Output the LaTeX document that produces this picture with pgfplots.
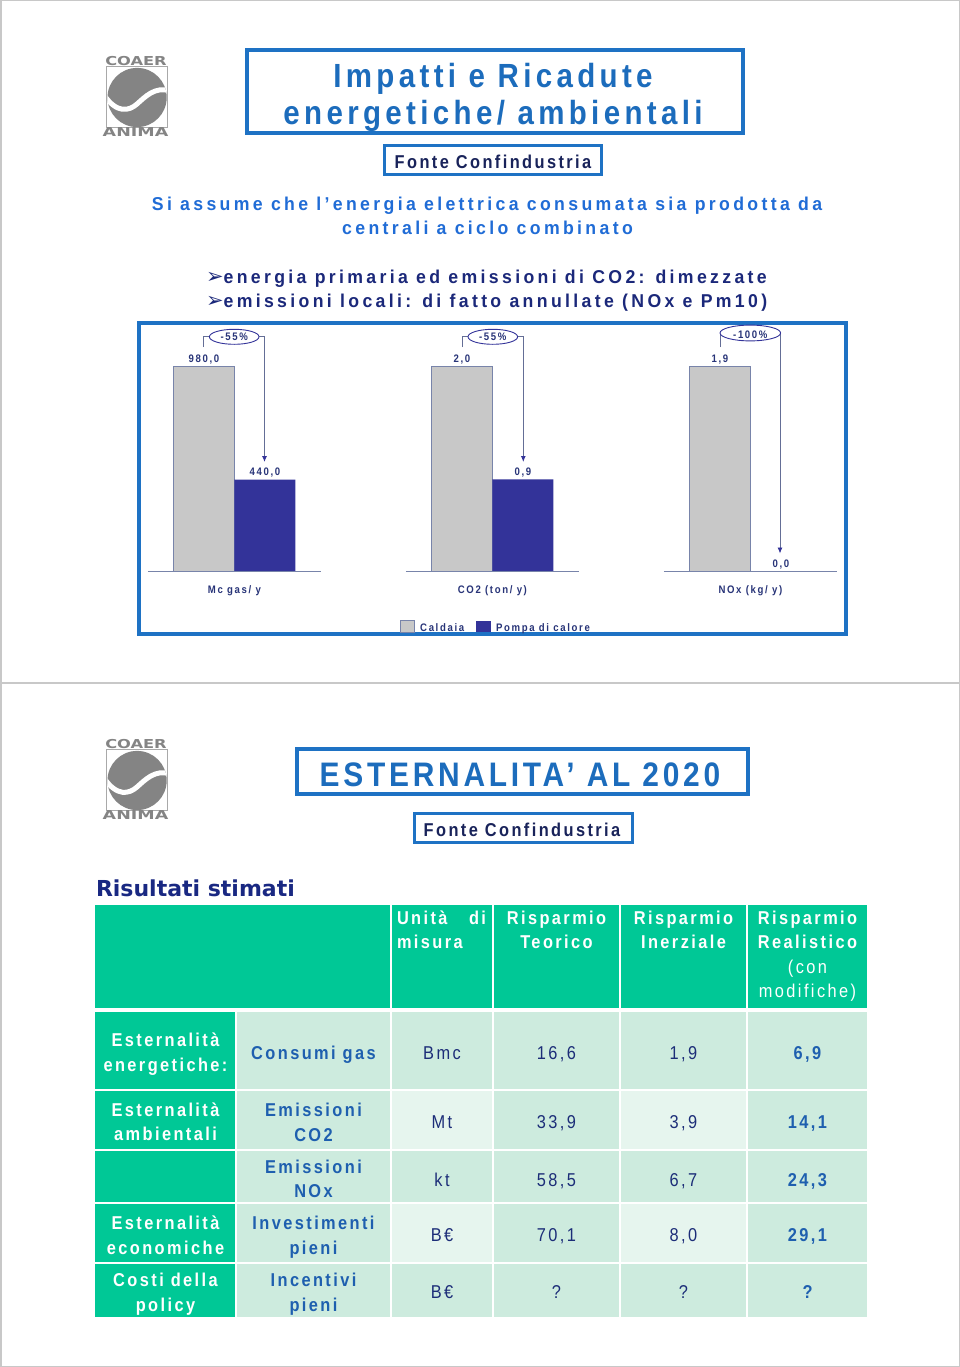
\documentclass[border=0pt]{standalone}
\usepackage{pgfplots}
\pgfplotsset{compat=1.18}
\usepackage{fontspec}
\usepackage{graphicx}
\usetikzlibrary{arrows.meta}
\setmainfont{Liberation Sans}[FakeStretch=0.88,LetterSpace=13]
\newfontfamily\fT[FakeStretch=0.88,LetterSpace=11]{Liberation Sans}
\newfontfamily\fW[FakeStretch=0.95,LetterSpace=18]{Liberation Sans}
\newfontfamily\fC[FakeStretch=0.88,LetterSpace=15]{Liberation Sans}
\newfontfamily\dejavu{DejaVu Sans}
\newcommand\fs[1]{\fontsize{#1}{#1}\selectfont}
\definecolor{boxblue}{RGB}{30,114,196}
\definecolor{titleblue}{RGB}{28,108,188}
\definecolor{subblue}{RGB}{32,108,214}
\definecolor{bulletnavy}{RGB}{27,40,122}
\definecolor{fontenavy}{RGB}{25,35,90}
\definecolor{chartnavy}{RGB}{51,51,153}
\definecolor{chartlab}{RGB}{40,52,120}
\definecolor{bargray}{RGB}{200,200,200}
\definecolor{barborder}{RGB}{120,132,170}
\definecolor{bracket}{RGB}{100,110,150}
\definecolor{teal}{RGB}{0,200,150}
\definecolor{mint}{RGB}{205,235,222}
\definecolor{lightmint}{RGB}{230,245,238}
\definecolor{tblblue}{RGB}{30,95,175}
\definecolor{tblnavy}{RGB}{28,45,120}
\definecolor{risnavy}{RGB}{25,40,130}
\definecolor{logogray}{RGB}{132,132,132}
\definecolor{framegray}{RGB}{200,200,200}
\newcommand\logo[1]{%
\begin{scope}[shift={(0,#1)}]
  \draw[logogray!70, line width=0.6] (106.7,66.5) rectangle (167.3,127.5);
  \fill[logogray] (137.1,97.5) ellipse [x radius=29.6, y radius=29.6];
  \begin{scope}
    \clip (137.1,97.5) ellipse [x radius=29.6, y radius=29.6];
    \draw[white, line width=5] (104,95) .. controls (117,114) and (129,111) .. (137,104) .. controls (145,97) and (155,86) .. (170,91);
  \end{scope}
  \node[text=logogray] at (136,61.2) {\scalebox{1.32}[1]{\dejavu\bfseries\fs{12.3}COAER}};
  \node[text=logogray] at (135.5,132.5) {\scalebox{1.42}[1]{\dejavu\bfseries\fs{12.3}ANIMA}};
\end{scope}}
\newcommand\cell[5]{\fill[#5] (#1,#2) rectangle (#3,#4);}
\begin{document}
\begin{tikzpicture}
\begin{scope}[x=1pt,y=-1pt, every node/.style={inner sep=0pt, outer sep=0pt}]
  \fill[white] (0,0) rectangle (960,1367);
  \draw[framegray, line width=1.5] (0.75,0.75) rectangle (959.25,683);
  \draw[framegray, line width=1.5] (0.75,683) rectangle (959.25,1366.25);
  % ---------------- top slide
  \logo{0}
  \draw[boxblue, line width=4] (247,50.5) rectangle (743,133);
  \node[anchor=base, text=titleblue, font=\fs{33.5}\bfseries] at (493,87.3) {Impatti e Ricadute};
  \node[anchor=base, text=titleblue, font=\fs{33.5}\bfseries] at (493,125) {energetiche/ ambientali};
  \draw[boxblue, line width=3] (384.5,146) rectangle (601.5,174.5);
  \node[anchor=base, text=fontenavy, font=\fs{18.6}\bfseries] at (493,168.3) {Fonte Confindustria};
  \node[anchor=base, text=subblue, font=\fW\fs{18.6}\bfseries] at (487,210) {Si assume che l’energia elettrica consumata sia prodotta da};
  \node[anchor=base, text=subblue, font=\fW\fs{18.6}\bfseries] at (487.5,234.3) {centrali a ciclo combinato};
  \node[anchor=base west, text=bulletnavy, font=\fW\fs{18.6}\bfseries] at (206,283.3) {{\dejavu\fs{21}➢}energia primaria ed emissioni di CO2: dimezzate};
  \node[anchor=base west, text=bulletnavy, font=\fW\fs{18.6}\bfseries] at (206,307.7) {{\dejavu\fs{21}➢}emissioni locali: di fatto annullate (NOx e Pm10)};
  \draw[boxblue, line width=4] (139,323) rectangle (846,634);
  % ---------------- bottom slide
  \logo{683}
  \draw[boxblue, line width=4] (296.5,748.7) rectangle (747.5,794);
  \node[anchor=base, text=titleblue, font=\fT\fs{34}\bfseries] at (520,786.7) {ESTERNALITA’ AL 2020};
  \draw[boxblue, line width=3] (414,813.2) rectangle (632,842.5);
  \node[anchor=base, text=fontenavy, font=\fs{18.6}\bfseries] at (522,836.7) {Fonte Confindustria};
  \node[anchor=base west, text=risnavy, font=\dejavu\fs{22}\bfseries] at (96,896) {Risultati stimati};
  % table cells
  \cell{95}{905}{390}{1008}{teal}
  \cell{392}{905}{492}{1008}{teal}
  \cell{494}{905}{619}{1008}{teal}
  \cell{621}{905}{746}{1008}{teal}
  \cell{748}{905}{867}{1008}{teal}
  % row 1
  \cell{95}{1012}{235}{1089}{teal}
  \cell{237}{1012}{390}{1089}{mint}
  \cell{392}{1012}{492}{1089}{mint}
  \cell{494}{1012}{619}{1089}{mint}
  \cell{621}{1012}{746}{1089}{mint}
  \cell{748}{1012}{867}{1089}{mint}
  % row 2
  \cell{95}{1091}{235}{1149}{teal}
  \cell{237}{1091}{390}{1149}{mint}
  \cell{392}{1091}{492}{1149}{lightmint}
  \cell{494}{1091}{619}{1149}{mint}
  \cell{621}{1091}{746}{1149}{lightmint}
  \cell{748}{1091}{867}{1149}{mint}
  % row 3
  \cell{95}{1151}{235}{1202}{teal}
  \cell{237}{1151}{390}{1202}{mint}
  \cell{392}{1151}{492}{1202}{mint}
  \cell{494}{1151}{619}{1202}{mint}
  \cell{621}{1151}{746}{1202}{mint}
  \cell{748}{1151}{867}{1202}{mint}
  % row 4
  \cell{95}{1204}{235}{1262}{teal}
  \cell{237}{1204}{390}{1262}{mint}
  \cell{392}{1204}{492}{1262}{lightmint}
  \cell{494}{1204}{619}{1262}{mint}
  \cell{621}{1204}{746}{1262}{lightmint}
  \cell{748}{1204}{867}{1262}{mint}
  % row 5
  \cell{95}{1264}{235}{1317}{teal}
  \cell{237}{1264}{390}{1317}{mint}
  \cell{392}{1264}{492}{1317}{mint}
  \cell{494}{1264}{619}{1317}{mint}
  \cell{621}{1264}{746}{1317}{mint}
  \cell{748}{1264}{867}{1317}{mint}
  % header text
  \begin{scope}[every node/.append style={text=white, font=\fs{18.6}\bfseries}]
    \node[anchor=base west] at (397,924) {Unità};
    \node[anchor=base east] at (486,924) {di};
    \node[anchor=base west] at (397,948.5) {misura};
    \node[anchor=base] at (556.5,924) {Risparmio};
    \node[anchor=base] at (556.5,948.5) {Teorico};
    \node[anchor=base] at (683.5,924) {Risparmio};
    \node[anchor=base] at (683.5,948.5) {Inerziale};
    \node[anchor=base] at (807.5,924) {Risparmio};
    \node[anchor=base] at (807.5,948.5) {Realistico};
    \node[anchor=base, font=\fs{18.6}] at (807.5,973) {(con};
    \node[anchor=base, font=\fs{18.6}] at (807.5,997.5) {modifiche)};
    % column 1
    \node[anchor=base] at (165.5,1046.7) {Esternalità};
    \node[anchor=base] at (165.5,1071) {energetiche:};
    \node[anchor=base] at (165.5,1116) {Esternalità};
    \node[anchor=base] at (165.5,1140.5) {ambientali};
    \node[anchor=base] at (165.5,1229.3) {Esternalità};
    \node[anchor=base] at (165.5,1254) {economiche};
    \node[anchor=base] at (165.5,1286.7) {Costi della};
    \node[anchor=base] at (165.5,1311) {policy};
  \end{scope}
  \begin{scope}[every node/.append style={text=tblblue, font=\fs{18.6}\bfseries, anchor=base}]
    \node at (313.5,1059.3) {Consumi gas};
    \node at (313.5,1116.7) {Emissioni};
    \node at (313.5,1141) {CO2};
    \node at (313.5,1173.3) {Emissioni};
    \node at (313.5,1197.7) {NOx};
    \node at (313.5,1229.3) {Investimenti};
    \node at (313.5,1254) {pieni};
    \node at (313.5,1286.7) {Incentivi};
    \node at (313.5,1311) {pieni};
    \node at (807.5,1059.3) {6,9};
    \node at (807.5,1128.3) {14,1};
    \node at (807.5,1186) {24,3};
    \node at (807.5,1241.7) {29,1};
    \node at (807.5,1298.3) {?};
  \end{scope}
  \begin{scope}[every node/.append style={text=tblnavy, font=\fs{18.6}, anchor=base}]
    \node at (442,1059.3) {Bmc};
    \node at (442,1128.3) {Mt};
    \node at (442,1186) {kt};
    \node at (442,1241.7) {B€};
    \node at (442,1298.3) {B€};
    \node at (556.5,1059.3) {16,6};
    \node at (556.5,1128.3) {33,9};
    \node at (556.5,1186) {58,5};
    \node at (556.5,1241.7) {70,1};
    \node at (556.5,1298.3) {?};
    \node at (683.5,1059.3) {1,9};
    \node at (683.5,1128.3) {3,9};
    \node at (683.5,1186) {6,7};
    \node at (683.5,1241.7) {8,0};
    \node at (683.5,1298.3) {?};
  \end{scope}
\end{scope}
% ---------------- bar chart
\begin{axis}[
  at={(105.4pt,-571.7pt)}, anchor=south west,
  x=258pt, y=2.05pt,
  xmin=-0.5, xmax=2.5, ymin=0, ymax=100,
  hide y axis,
  axis x line*=bottom,
  axis line style={draw=none},
  xtick={0,1,2},
  xticklabels={Mc gas/ y, CO2 (ton/ y), NOx (kg/ y)},
  major tick length=0pt,
  xticklabel style={anchor=base, yshift=-22pt, font=\fC\fs{10.9}\bfseries, text=chartlab, inner sep=0pt},
  ybar=0pt, bar width=61pt,
  clip=false,
  nodes near coords, point meta=explicit symbolic,
  every node near coord/.append style={font=\fC\fs{10.9}\bfseries, text=chartlab, anchor=base, yshift=4.4pt, inner sep=0pt},
  legend style={at={(0.503,-0.268)}, anchor=center, draw=none, fill=none, inner sep=0pt,
    legend columns=2, font=\fC\fs{10.9}\bfseries, text=chartlab, nodes={inner sep=0pt},
    /tikz/every odd column/.append style={column sep=5.5pt},
    /tikz/every even column/.append style={column sep=12pt}},
]
\addplot[fill=bargray, draw=barborder, line width=0.8pt,
  legend image code/.code={\draw[fill=bargray,draw=barborder,line width=0.6pt] (0pt,-3.9pt) rectangle (14.5pt,7.4pt);}]
  table[meta=lab] {
x y lab
0 100 980,0
1 100 2,0
2 100 1,9
};
\addplot[fill=chartnavy, draw=none,
  legend image code/.code={\fill[chartnavy] (0pt,-3.9pt) rectangle (14.5pt,7.4pt);}]
  table[meta=lab] {
x y lab
0 44.9 440,0
1 45 0,9
2 0 0,0
};
\draw[barborder, line width=1pt] (axis cs:-0.335,0) -- (axis cs:0.335,0);
\draw[barborder, line width=1pt] (axis cs:0.665,0) -- (axis cs:1.335,0);
\draw[barborder, line width=1pt] (axis cs:1.665,0) -- (axis cs:2.335,0);
\legend{Caldaia, Pompa di calore}
\end{axis}
% percentage brackets
\begin{scope}[x=1pt,y=-1pt, every node/.style={inner sep=0pt, outer sep=0pt}]
  \draw[bracket, line width=0.9, -{Latex[length=6pt,width=5pt,color=chartnavy]}] (203,347) -- (203,336.5) -- (264.5,336.5) -- (264.5,462);
  \draw[chartnavy, fill=white, line width=0.9] (234.2,336.8) ellipse [x radius=24.8, y radius=7.5];
  \node[anchor=base, text=chartlab, font=\fC\fs{10.9}\bfseries] at (234.2,340.7) {-55\%};
  \draw[bracket, line width=0.9, -{Latex[length=6pt,width=5pt,color=chartnavy]}] (462.6,347) -- (462.6,336.5) -- (523.3,336.5) -- (523.3,462);
  \draw[chartnavy, fill=white, line width=0.9] (492.8,336.8) ellipse [x radius=24.8, y radius=7.5];
  \node[anchor=base, text=chartlab, font=\fC\fs{10.9}\bfseries] at (492.8,340.7) {-55\%};
  \draw[bracket, line width=0.9, -{Latex[length=6pt,width=5pt,color=chartnavy]}] (720.5,347) -- (720.5,333) -- (780,333) -- (780,553.5);
  \draw[chartnavy, fill=white, line width=0.9] (750.3,333) ellipse [x radius=30.3, y radius=7.9];
  \node[anchor=base, text=chartlab, font=\fC\fs{10.9}\bfseries] at (750.3,338.3) {-100\%};
\end{scope}
\end{tikzpicture}
\end{document}
